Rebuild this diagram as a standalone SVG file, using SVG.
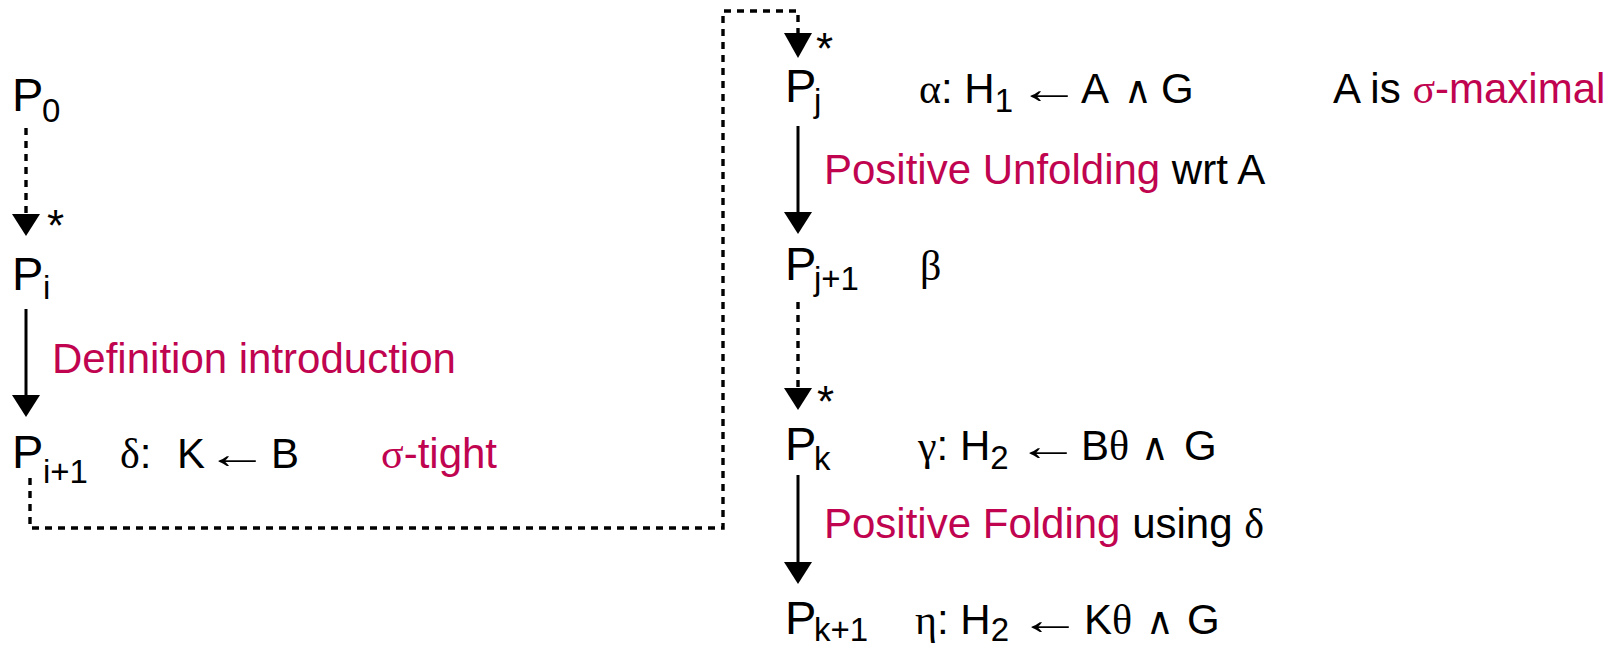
<svg xmlns="http://www.w3.org/2000/svg" width="1624" height="646" viewBox="0 0 1624 646">
  <style>
    text { font-family: "Liberation Sans", Arial, sans-serif; fill: #000; }
    .p { font-size: 47px; }
    .sub { font-size: 33px; }
    .lbl { font-size: 42px; }
    .star { font-size: 44px; }
    .gr { font-family: "Liberation Serif", "Times New Roman", serif; font-size: 42px; }
    .arr { font-family: "Liberation Sans", Arial, sans-serif; font-size: 42px; }
    .and { font-family: "DejaVu Sans", sans-serif; font-size: 38px; }
    .red { fill: #C0044F; }
    .solid { stroke: #000; stroke-width: 3; fill: none; }
    .dash { stroke: #000; stroke-width: 3.4; fill: none; stroke-dasharray: 7 6; }
    .head { fill: #000; }
  </style>
  <rect width="1624" height="646" fill="#fff"/>

  <!-- connectors -->
  <g id="connectors">
    <!-- P0 to Pi, zero or more steps -->
    <line class="dash" x1="26" y1="128" x2="26" y2="215"/>
    <polygon class="head" points="12,214 40,214 26,236"/>
    <!-- Pi to Pi+1 -->
    <line class="solid" x1="26" y1="309" x2="26" y2="396"/>
    <polygon class="head" points="12,395 40,395 26,417"/>
    <!-- Pi+1 around to Pj -->
    <path class="dash" d="M 30 478 V 528 H 723 V 11 H 798 V 34"/>
    <polygon class="head" points="784,33 812,33 798,58"/>
    <!-- Pj to Pj+1 -->
    <line class="solid" x1="798" y1="126" x2="798" y2="213"/>
    <polygon class="head" points="784,212 812,212 798,234"/>
    <!-- Pj+1 to Pk -->
    <line class="dash" x1="798" y1="302" x2="798" y2="389"/>
    <polygon class="head" points="784,388 812,388 798,410"/>
    <!-- Pk to Pk+1 -->
    <line class="solid" x1="798" y1="475" x2="798" y2="563"/>
    <polygon class="head" points="784,562 812,562 798,584"/>
    <text class="star" x="47" y="241">*</text>
    <text class="star" x="816" y="64">*</text>
    <text class="star" x="817" y="417">*</text>
  </g>

  <g id="p0">
    <text class="p" x="12" y="111">P</text>
    <text class="sub" x="42" y="122">0</text>
  </g>

  <g id="pi">
    <text class="p" x="12" y="290">P</text>
    <text class="sub" x="43" y="299">i</text>
  </g>

  <text id="lbl-defintro" class="lbl red" x="52" y="373">Definition introduction</text>

  <g id="pi1">
    <text class="p" x="12" y="468">P</text>
    <text class="sub" x="43" y="483">i+1</text>
    <text class="lbl" x="120" y="468"><tspan class="gr">δ</tspan>:</text>
    <text class="lbl" x="177" y="468">K</text>
    <text class="arr" transform="translate(206 468) scale(1.5 1)">←</text>
    <text class="lbl" x="271" y="468">B</text>
    <text class="lbl red" x="381" y="468"><tspan class="gr">σ</tspan>-tight</text>
  </g>

  <g id="pj">
    <text class="p" x="785" y="102">P</text>
    <text class="sub" x="814" y="112">j</text>
    <text class="lbl" x="919" y="103"><tspan class="gr">α</tspan>: H<tspan class="sub" dy="9">1</tspan></text>
    <text class="arr" transform="translate(1018 103) scale(1.5 1)">←</text>
    <text class="lbl" x="1081" y="103">A</text>
    <text class="and" x="1124" y="103">∧</text>
    <text class="lbl" x="1161" y="103">G</text>
    <text class="lbl" x="1333" y="103">A is <tspan class="red"><tspan class="gr">σ</tspan>-maximal</tspan></text>
  </g>

  <text id="lbl-unfold" class="lbl" x="824" y="184"><tspan class="red">Positive Unfolding</tspan> wrt A</text>

  <g id="pj1">
    <text class="p" x="785" y="280">P</text>
    <text class="sub" x="814" y="290">j+1</text>
    <text class="gr" x="920" y="280">β</text>
  </g>

  <g id="pk">
    <text class="p" x="785" y="460">P</text>
    <text class="sub" x="814" y="470">k</text>
    <text class="lbl" x="918" y="460"><tspan class="gr">γ</tspan>: H<tspan class="sub" dy="9">2</tspan></text>
    <text class="arr" transform="translate(1017 460) scale(1.5 1)">←</text>
    <text class="lbl" x="1081" y="460">B<tspan class="gr">θ</tspan></text>
    <text class="and" x="1141" y="460">∧</text>
    <text class="lbl" x="1184" y="460">G</text>
  </g>

  <text id="lbl-fold" class="lbl" x="824" y="538"><tspan class="red">Positive Folding</tspan> using <tspan class="gr">δ</tspan></text>

  <g id="pk1">
    <text class="p" x="785" y="634">P</text>
    <text class="sub" x="814" y="641">k+1</text>
    <text class="lbl" x="915" y="634"><tspan class="gr">η</tspan>: H<tspan class="sub" dy="7">2</tspan></text>
    <text class="arr" transform="translate(1019 634) scale(1.5 1)">←</text>
    <text class="lbl" x="1084" y="634">K<tspan class="gr">θ</tspan></text>
    <text class="and" x="1146" y="634">∧</text>
    <text class="lbl" x="1187" y="634">G</text>
  </g>
</svg>
